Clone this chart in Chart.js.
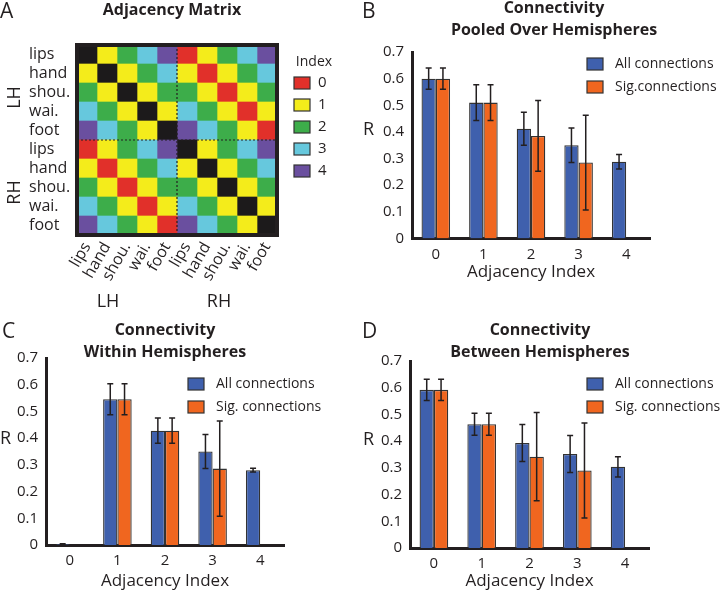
<!DOCTYPE html>
<html>
<head>
<meta charset="utf-8">
<script src="https://cdn.jsdelivr.net/npm/chart.js@4.4.1/dist/chart.umd.min.js"></script>
<style>
  body { margin: 0; background: #fff; width: 720px; height: 591px; overflow: hidden; position: relative; }
  canvas { position: absolute; }
</style>
</head>
<body>
<canvas id="MatrixChart" style="left:0px;top:0px" width="350" height="320"></canvas>
<canvas id="PooledChart" style="left:360px;top:0px" width="360" height="282"></canvas>
<canvas id="WithinChart" style="left:0px;top:320px" width="360" height="271"></canvas>
<canvas id="BetweenChart" style="left:360px;top:320px" width="360" height="271"></canvas>
<script>
// body parts, two hemispheres
const rowLabels = ['lips', 'hand', 'shou.', 'wai.', 'foot', 'lips', 'hand', 'shou.', 'wai.', 'foot'];
const colLabels = ['lips', 'hand', 'shou.', 'wai.', 'foot', 'lips', 'hand', 'shou.', 'wai.', 'foot'];
const hemiLabels = ['LH', 'RH'];

// adjacency index per cell, -1 = self (black)
const adjMatrix = [
    [-1, 1, 2, 3, 4,  0, 1, 2, 3, 4],
    [ 1,-1, 1, 2, 3,  1, 0, 1, 2, 3],
    [ 2, 1,-1, 1, 2,  2, 1, 0, 1, 2],
    [ 3, 2, 1,-1, 1,  3, 2, 1, 0, 1],
    [ 4, 3, 2, 1,-1,  4, 3, 2, 1, 0],
    [ 0, 1, 2, 3, 4, -1, 1, 2, 3, 4],
    [ 1, 0, 1, 2, 3,  1,-1, 1, 2, 3],
    [ 2, 1, 0, 1, 2,  2, 1,-1, 1, 2],
    [ 3, 2, 1, 0, 1,  3, 2, 1,-1, 1],
    [ 4, 3, 2, 1, 0,  4, 3, 2, 1,-1]
];
const indexLevels = [0, 1, 2, 3, 4];
const indexColors = ['#e1302a', '#f4ec1b', '#3dad4a', '#66c8dd', '#6a4f9f'];
const selfColor = '#1c1a1b';

// bar charts
const adjIndex = ['0', '1', '2', '3', '4'];

const pooledAll    = [0.600, 0.510, 0.412, 0.350, 0.288];
const pooledAllErr = [0.040, 0.067, 0.062, 0.065, 0.027];
const pooledSig    = [0.600, 0.510, 0.385, 0.285, null];
const pooledSigErr = [0.040, 0.067, 0.133, 0.178, null];

const withinAll    = [0.003, 0.546, 0.428, 0.350, 0.280];
const withinAllErr = [0.002, 0.058, 0.047, 0.064, 0.007];
const withinSig    = [null, 0.546, 0.428, 0.286, null];
const withinSigErr = [null, 0.058, 0.047, 0.178, null];

const betweenAll    = [0.592, 0.463, 0.393, 0.352, 0.304];
const betweenAllErr = [0.040, 0.041, 0.069, 0.069, 0.038];
const betweenSig    = [0.592, 0.463, 0.342, 0.290, null];
const betweenSigErr = [0.040, 0.041, 0.165, 0.178, null];

let BarBlue = '#3f60ad';
let BarOrange = '#f0661f';
let Edge = '#333333';
let Ink = '#231f20';
let FontFam = "'Open Sans', sans-serif";

Chart.defaults.font.family = FontFam;
Chart.defaults.color = Ink;

// free text (titles, panel letters, axis "R")
const panelText = {
    id: 'panelText',
    afterDraw(chart, args, opts) {
        const ctx = chart.ctx;
        (opts.items || []).forEach(t => {
            ctx.save();
            ctx.font = t.font;
            ctx.fillStyle = Ink;
            ctx.textAlign = t.align || 'left';
            ctx.textBaseline = t.baseline || 'alphabetic';
            ctx.translate(t.x, t.y);
            if (t.rotate) ctx.rotate(t.rotate);
            ctx.fillText(t.text, 0, 0);
            ctx.restore();
        });
    }
};

// error bars from dataset.err
const errorBars = {
    id: 'errorBars',
    afterDatasetsDraw(chart) {
        const ctx = chart.ctx;
        const y = chart.scales.y;
        chart.data.datasets.forEach((ds, i) => {
            const meta = chart.getDatasetMeta(i);
            meta.data.forEach((bar, j) => {
                const v = ds.data[j], e = ds.err[j];
                if (v == null || e == null) return;
                const top = y.getPixelForValue(v + e);
                const bot = y.getPixelForValue(Math.max(v - e, 0));
                ctx.save();
                ctx.strokeStyle = Ink;
                ctx.lineWidth = 1.5;
                ctx.beginPath();
                ctx.moveTo(bar.x, top); ctx.lineTo(bar.x, bot);
                ctx.moveTo(bar.x - 3, top); ctx.lineTo(bar.x + 3, top);
                ctx.moveTo(bar.x - 3, bot); ctx.lineTo(bar.x + 3, bot);
                ctx.stroke();
                ctx.restore();
            });
        });
    }
};

// legend boxes inside the plot
const boxLegend = {
    id: 'boxLegend',
    afterDraw(chart, args, opts) {
        const ctx = chart.ctx;
        chart.data.datasets.forEach((ds, i) => {
            const cy = opts.y + i * 23;
            ctx.save();
            ctx.fillStyle = ds.backgroundColor;
            ctx.fillRect(opts.x, cy - 6, 16, 12);
            ctx.strokeStyle = Edge;
            ctx.lineWidth = 1.2;
            ctx.strokeRect(opts.x, cy - 6, 16, 12);
            ctx.fillStyle = Ink;
            ctx.font = '14px ' + FontFam;
            ctx.textBaseline = 'middle';
            ctx.fillText(ds.label, opts.x + 28, cy);
            ctx.restore();
        });
    }
};

// matrix frame, hemisphere split, group labels and colour key
const matrixDecor = {
    id: 'matrixDecor',
    afterDraw(chart) {
        const ctx = chart.ctx;
        const a = chart.chartArea;
        const xs = chart.scales.x, ys = chart.scales.y;
        const midX = xs.getPixelForValue(5);
        const midY = (ys.getPixelForValue(4) + ys.getPixelForValue(5)) / 2;
        ctx.save();
        ctx.strokeStyle = Ink;
        ctx.lineWidth = 1.2;
        ctx.setLineDash([2, 2]);
        ctx.beginPath();
        ctx.moveTo(midX, a.top); ctx.lineTo(midX, a.bottom);
        ctx.moveTo(a.left, midY); ctx.lineTo(a.right, midY);
        ctx.stroke();
        ctx.setLineDash([]);
        ctx.lineWidth = 4;
        ctx.strokeRect(a.left, a.top, a.right - a.left, a.bottom - a.top);

        ctx.fillStyle = Ink;
        ctx.font = '18px ' + FontFam;
        ctx.textAlign = 'center';
        ctx.textBaseline = 'middle';
        hemiLabels.forEach((h, k) => {
            const yc = (ys.getPixelForValue(k * 5) + ys.getPixelForValue(k * 5 + 4)) / 2 + 5;
            ctx.save();
            ctx.translate(15, yc);
            ctx.rotate(-Math.PI / 2);
            ctx.fillText(h, 0, 0);
            ctx.restore();
            const xc = xs.getPixelForValue(k * 5 + 2.5) - (k === 0 ? 19 : 8);
            ctx.fillText(h, xc, 302);
        });

        // colour key
        ctx.font = '14px ' + FontFam;
        ctx.textAlign = 'center';
        ctx.fillText('Index', 314, 62);
        ctx.textAlign = 'left';
        indexLevels.forEach((lv, k) => {
            const cy = 83 + k * 22;
            ctx.fillStyle = indexColors[k];
            ctx.fillRect(294, cy - 6, 16, 12);
            ctx.strokeStyle = Edge;
            ctx.lineWidth = 1.2;
            ctx.strokeRect(294, cy - 6, 16, 12);
            ctx.fillStyle = Ink;
            ctx.font = '15px ' + FontFam;
            ctx.fillText(String(lv), 318, cy);
        });
        ctx.restore();
    }
};

// Adjacency Matrix (one stacked horizontal bar per row, one dataset per column)
var matrixCtx = document.getElementById('MatrixChart').getContext('2d');
var matrixSets = colLabels.map((c, j) => ({
    label: c,
    data: rowLabels.map(() => 1),
    backgroundColor: adjMatrix.map(r => r[j] < 0 ? selfColor : indexColors[r[j]]),
    borderWidth: 0,
    barPercentage: 1,
    categoryPercentage: 1
}));
new Chart(matrixCtx, {
    type: 'bar',
    data: { labels: rowLabels, datasets: matrixSets },
    options: {
        responsive: false,
        animation: false,
        indexAxis: 'y',
        layout: { padding: { top: 45, left: 29, right: 73, bottom: 0 } },
        scales: {
            x: { type: 'linear', stacked: true, min: 0, max: 10, display: false },
            x2: {
                type: 'category', labels: colLabels, position: 'bottom', offset: true,
                grid: { display: false, drawTicks: false }, border: { display: false },
                ticks: { autoSkip: false, minRotation: 60, maxRotation: 60, padding: 4, font: { size: 16 } },
                afterFit: s => { s.height = 85; }
            },
            y: {
                stacked: true, offset: true,
                grid: { display: false, drawTicks: false }, border: { display: false },
                ticks: { crossAlign: 'far', autoSkip: false, font: { size: 16 } },
                afterFit: s => { s.width = 48; }
            }
        },
        plugins: {
            legend: { display: false },
            tooltip: { enabled: false },
            panelText: { items: [
                { text: 'A', x: 0, y: 18, font: '21px ' + FontFam },
                { text: 'Adjacency Matrix', x: 172, y: 15, align: 'center', font: 'bold 16px ' + FontFam }
            ] }
        }
    },
    plugins: [matrixDecor, panelText]
});

function fmtR(v) {
    return v === 0 ? '0' : v.toFixed(1);
}

function barChart(id, o) {
    var c = document.getElementById(id).getContext('2d');
    return new Chart(c, {
        type: 'bar',
        data: {
            labels: adjIndex,
            datasets: [{
                label: 'All connections',
                data: o.all, err: o.allErr,
                backgroundColor: BarBlue, borderColor: Edge, borderWidth: 1.3,
                barPercentage: 1, categoryPercentage: 0.6
            }, {
                label: o.sigLabel,
                data: o.sig, err: o.sigErr,
                backgroundColor: BarOrange, borderColor: Edge, borderWidth: 1.3,
                barPercentage: 1, categoryPercentage: 0.6
            }]
        },
        options: {
            responsive: false,
            animation: false,
            layout: { padding: { top: o.top, right: o.right, left: 0, bottom: 0 } },
            scales: {
                x: {
                    grid: { display: false, drawTicks: false },
                    border: { color: Ink, width: 3 },
                    ticks: { padding: 7, font: { size: 15 } },
                    title: { display: true, text: 'Adjacency Index', font: { size: 17 }, padding: 0 },
                    afterFit: s => { s.height = o.xh; }
                },
                y: {
                    min: 0, max: 0.7,
                    grid: { display: false, drawTicks: false },
                    border: { color: Ink, width: 3 },
                    ticks: { stepSize: 0.1, padding: 8, font: { size: 15 }, callback: v => fmtR(v) },
                    afterFit: s => { s.width = o.yw; }
                }
            },
            plugins: {
                legend: { display: false },
                tooltip: { enabled: false },
                boxLegend: { x: o.legX, y: o.legY },
                panelText: { items: [
                    { text: o.letter, x: 2, y: 18, font: '21px ' + FontFam },
                    { text: 'Connectivity', x: o.titleX, y: o.titleY, align: 'center', font: 'bold 16px ' + FontFam },
                    { text: o.title2, x: o.titleX, y: o.titleY + 22, align: 'center', font: 'bold 16px ' + FontFam },
                    { text: 'R', x: o.rx, y: o.ry, baseline: 'middle', font: '18px ' + FontFam }
                ] }
            }
        },
        plugins: [errorBars, boxLegend, panelText]
    });
}

// Pooled Over Hemispheres
barChart('PooledChart', {
    all: pooledAll, allErr: pooledAllErr, sig: pooledSig, sigErr: pooledSigErr,
    sigLabel: 'Sig.connections', letter: 'B', title2: 'Pooled Over Hemispheres',
    top: 52, right: 70, yw: 52, xh: 43.5,
    titleX: 194, titleY: 13, rx: 3, ry: 130, legX: 227, legY: 64
});

// Within Hemispheres
barChart('WithinChart', {
    all: withinAll, allErr: withinAllErr, sig: withinSig, sigErr: withinSigErr,
    sigLabel: 'Sig. connections', letter: 'C', title2: 'Within Hemispheres',
    top: 38, right: 76, yw: 46, xh: 46,
    titleX: 165, titleY: 15, rx: 0, ry: 119, legX: 188, legY: 64
});

// Between Hemispheres
barChart('BetweenChart', {
    all: betweenAll, allErr: betweenAllErr, sig: betweenSig, sigErr: betweenSigErr,
    sigLabel: 'Sig. connections', letter: 'D', title2: 'Between Hemispheres',
    top: 41, right: 71, yw: 50, xh: 43,
    titleX: 180, titleY: 15, rx: 3, ry: 120, legX: 227, legY: 64
});
</script>
</body>
</html>
